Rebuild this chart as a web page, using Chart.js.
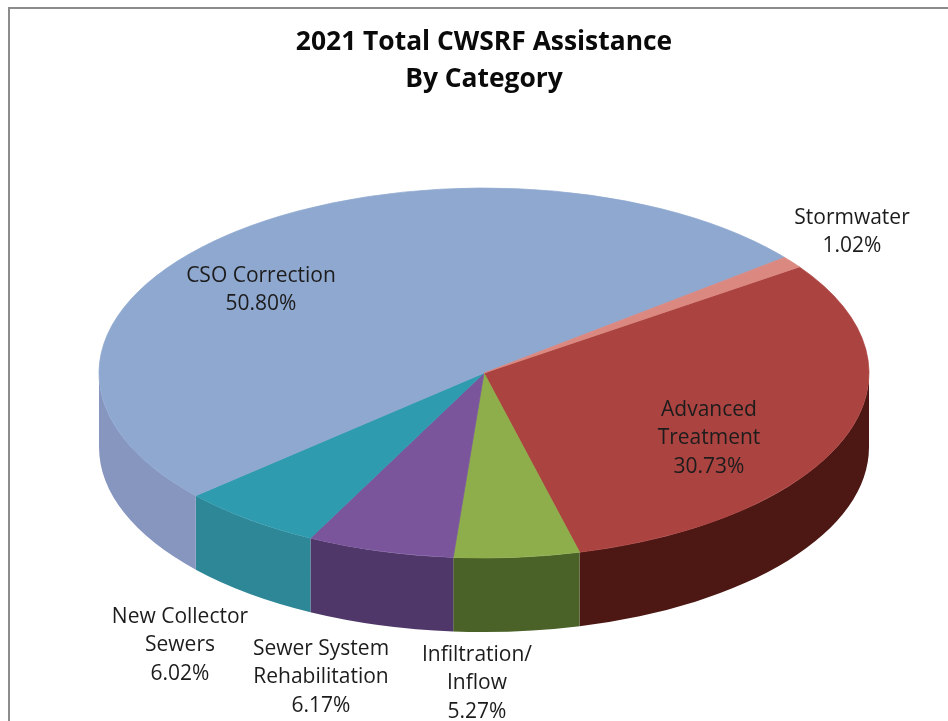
<!DOCTYPE html>
<html>
<head>
<meta charset="utf-8">
<style>
  html, body { margin: 0; padding: 0; background: #fff; }
  canvas { display: block; }
</style>
<script src="https://cdn.jsdelivr.net/npm/chart.js@4"></script>
</head>
<body>
<canvas id="grafico" width="948" height="721"></canvas>
<script>
// dados
const categorias = ["Advanced Treatment", "Infiltration/Inflow", "Sewer System Rehabilitation", "New Collector Sewers", "CSO Correction", "Stormwater"];
const valores = [30.73, 5.27, 6.17, 6.02, 50.80, 1.02];
const rotulos = [
  ["Advanced", "Treatment", "30.73%"],
  ["Infiltration/", "Inflow", "5.27%"],
  ["Sewer System", "Rehabilitation", "6.17%"],
  ["New Collector", "Sewers", "6.02%"],
  ["CSO Correction", "50.80%"],
  ["Stormwater", "1.02%"],
];
const titulo = ["2021 Total CWSRF Assistance", "By Category"];

// aparencia
const coresTopo = ["#AB4340", "#8DAE4B", "#7A559C", "#2F9BAE", "#8FA8D0", "#DA8880"];
const coresLado = ["#4D1814", "#4A6127", "#4F3869", "#2E8797", "#8696BF", "#B06A64"];
const posRotulos = [[709, 410], [477, 655], [321, 649], [180, 617], [261, 276], [852, 218]];
const ACHATAMENTO = 185 / 385;
const PROFUNDIDADE = 74;
const FONTE = "'Open Sans', sans-serif";

// desenha a lateral do disco e achata as fatias
const pizza3d = {
  id: "pizza3d",
  beforeDraw(chart) {
    const ctx = chart.ctx;
    ctx.save();
    ctx.strokeStyle = "#8c8c8c";
    ctx.lineWidth = 2;
    ctx.beginPath();
    ctx.moveTo(9, 721);
    ctx.lineTo(9, 8);
    ctx.lineTo(948, 8);
    ctx.stroke();
    ctx.restore();
  },
  beforeDatasetsDraw(chart) {
    const ctx = chart.ctx;
    const arcos = chart.getDatasetMeta(0).data;
    ctx.save();
    arcos.forEach((arco, i) => {
      const { x, y, startAngle, endAngle, outerRadius } = arco.getProps(["x", "y", "startAngle", "endAngle", "outerRadius"]);
      const rx = outerRadius;
      const ry = outerRadius * ACHATAMENTO;
      // so a parte da frente (0 a 180 graus) aparece
      for (let k = -1; k <= 1; k++) {
        const a0 = Math.max(startAngle + k * 2 * Math.PI, 0);
        const a1 = Math.min(endAngle + k * 2 * Math.PI, Math.PI);
        if (a1 <= a0) continue;
        ctx.beginPath();
        ctx.ellipse(x, y, rx, ry, 0, a0, a1);
        ctx.ellipse(x, y + PROFUNDIDADE, rx, ry, 0, a1, a0, true);
        ctx.closePath();
        ctx.fillStyle = coresLado[i];
        ctx.fill();
      }
    });
    const { x, y } = arcos[0].getProps(["x", "y"]);
    ctx.translate(x, y);
    ctx.scale(1, ACHATAMENTO);
    ctx.translate(-x, -y);
  },
  afterDatasetsDraw(chart) {
    const ctx = chart.ctx;
    ctx.restore();
    ctx.save();
    ctx.font = "21px " + FONTE;
    ctx.fillStyle = "#1c1c1c";
    ctx.textAlign = "center";
    ctx.textBaseline = "middle";
    rotulos.forEach((linhas, i) => {
      linhas.forEach((linha, j) => {
        ctx.fillText(linha, posRotulos[i][0], posRotulos[i][1] + j * 28.5);
      });
    });
    ctx.restore();
  },
};

new Chart(document.getElementById("grafico").getContext("2d"), {
  type: "pie",
  data: {
    labels: categorias,
    datasets: [
      {
        data: valores,
        backgroundColor: coresTopo,
        borderColor: coresTopo,
        borderWidth: 1,
        radius: 385,
        rotation: 55,
        clip: false,
      },
    ],
  },
  options: {
    responsive: false,
    animation: false,
    layout: { padding: { left: 20, right: 0, top: 0, bottom: 73 } },
    plugins: {
      legend: { display: false },
      tooltip: { enabled: false },
      title: {
        display: true,
        text: titulo,
        color: "#0a0a0a",
        font: { family: FONTE, size: 26.4, weight: "bold", lineHeight: 37 / 26.4 },
        padding: { top: 24, bottom: 0 },
      },
    },
  },
  plugins: [pizza3d],
});
</script>
</body>
</html>
